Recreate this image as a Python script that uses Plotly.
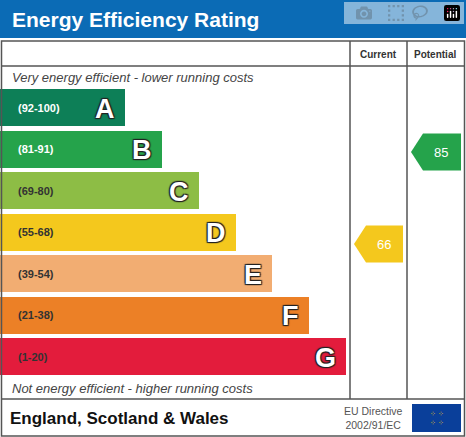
import plotly.graph_objects as go

bands = ["A", "B", "C", "D", "E", "F", "G"]
ranges = ["(92-100)", "(81-91)", "(69-80)", "(55-68)", "(39-54)", "(21-38)", "(1-20)"]
bar_ends = [125, 162, 199, 236, 272, 309, 346]
colors = ["#0d7f57", "#25a34b", "#8dbd45", "#f4c81d", "#f2ad72", "#ec8026", "#e31c3c"]
label_colors = ["white", "white", "#333", "#333", "#333", "#333", "#333"]
current = 66
potential = 85

def band_y(score):
    lows = [92, 81, 69, 55, 39, 21, 1]
    for i, lo in enumerate(lows):
        if score >= lo:
            return i
    return 6

y0, step = 107.5, 41.5
ys = [y0 + i * step for i in range(len(bands))]

fig = go.Figure()
fig.add_trace(go.Bar(x=bar_ends, y=ys, base=0, orientation="h", width=37,
                     marker=dict(color=colors, line=dict(width=0)), hoverinfo="skip"))

shapes = [
    dict(type="rect", x0=0, x1=466, y0=0, y1=38, fillcolor="#0b6bb5", line_width=0, layer="below"),
    dict(type="rect", x0=1.5, x1=464.5, y0=41, y1=436, line=dict(color="#555", width=1.5)),
    dict(type="line", x0=1.5, x1=464.5, y0=66, y1=66, line=dict(color="#555", width=1.5)),
    dict(type="line", x0=1.5, x1=464.5, y0=399, y1=399, line=dict(color="#555", width=1.5)),
    dict(type="line", x0=350, x1=350, y0=41, y1=399, line=dict(color="#555", width=1.5)),
    dict(type="line", x0=407, x1=407, y0=41, y1=399, line=dict(color="#555", width=1.5)),
    dict(type="rect", x0=412, x1=461, y0=404, y1=432, fillcolor="#0a3f9a", line_width=0),
]

def arrow(x_left, x_right, yc, color):
    h = 18.5
    return dict(type="path", fillcolor=color, line_width=0,
                path=f"M{x_left},{yc} L{x_left+12},{yc-h} L{x_right},{yc-h} L{x_right},{yc+h} L{x_left+12},{yc+h} Z")

annotations = []
for score, xl, xr in [(current, 354, 403), (potential, 411, 461)]:
    i = band_y(score)
    yc = ys[i] + (12 if score == current else 3)
    shapes.append(arrow(xl, xr, yc, colors[i]))
    annotations.append(dict(x=(xl + xr) / 2 + 5, y=yc, text=str(score), showarrow=False,
                            font=dict(size=13, color="white", family="Arial")))

for i, b in enumerate(bands):
    annotations.append(dict(x=16, y=ys[i], text=f"<b>{ranges[i]}</b>", showarrow=False, xanchor="left",
                            font=dict(size=11, color=label_colors[i], family="Arial")))
    annotations.append(dict(x=bar_ends[i] - 8, y=ys[i] + 1, text=f"<b>{b}</b>", showarrow=False, xanchor="right",
                            font=dict(size=27, color="white", family="Arial", shadow="1px 1px 1px #222, -1px -1px 1px #222, 1px -1px 1px #222, -1px 1px 1px #222")))

annotations += [
    dict(x=10, y=19, text="<b>Energy Efficiency Rating</b>", showarrow=False, xanchor="left",
         font=dict(size=21, color="white", family="Arial")),
    dict(x=378, y=54, text="<b>Current</b>", showarrow=False, font=dict(size=10, color="#333", family="Arial")),
    dict(x=435, y=54, text="<b>Potential</b>", showarrow=False, font=dict(size=10, color="#333", family="Arial")),
    dict(x=10, y=77, text="<i>Very energy efficient - lower running costs</i>", showarrow=False, xanchor="left",
         font=dict(size=13, color="#444", family="Arial")),
    dict(x=10, y=388, text="<i>Not energy efficient - higher running costs</i>", showarrow=False, xanchor="left",
         font=dict(size=13, color="#444", family="Arial")),
    dict(x=8, y=418, text="<b>England, Scotland &amp; Wales</b>", showarrow=False, xanchor="left",
         font=dict(size=17, color="#111", family="Arial")),
    dict(x=342, y=418, text="EU Directive<br>2002/91/EC", showarrow=False, xanchor="left",
         font=dict(size=10.5, color="#555", family="Arial")),
    dict(x=436.5, y=418, text="⁘ ⁘<br>⁘ ⁘", showarrow=False,
         font=dict(size=7, color="#f5d400", family="DejaVu Sans")),
]

fig.update_layout(
    width=466, height=437, margin=dict(l=0, r=0, t=0, b=0),
    plot_bgcolor="white", paper_bgcolor="white", showlegend=False,
    xaxis=dict(range=[0, 466], visible=False, fixedrange=True),
    yaxis=dict(range=[437, 0], visible=False, fixedrange=True),
    shapes=shapes, annotations=annotations, bargap=0,
)
fig.write_html("out.html", post_script="document.body.style.margin='0';document.body.style.overflow='hidden';")
